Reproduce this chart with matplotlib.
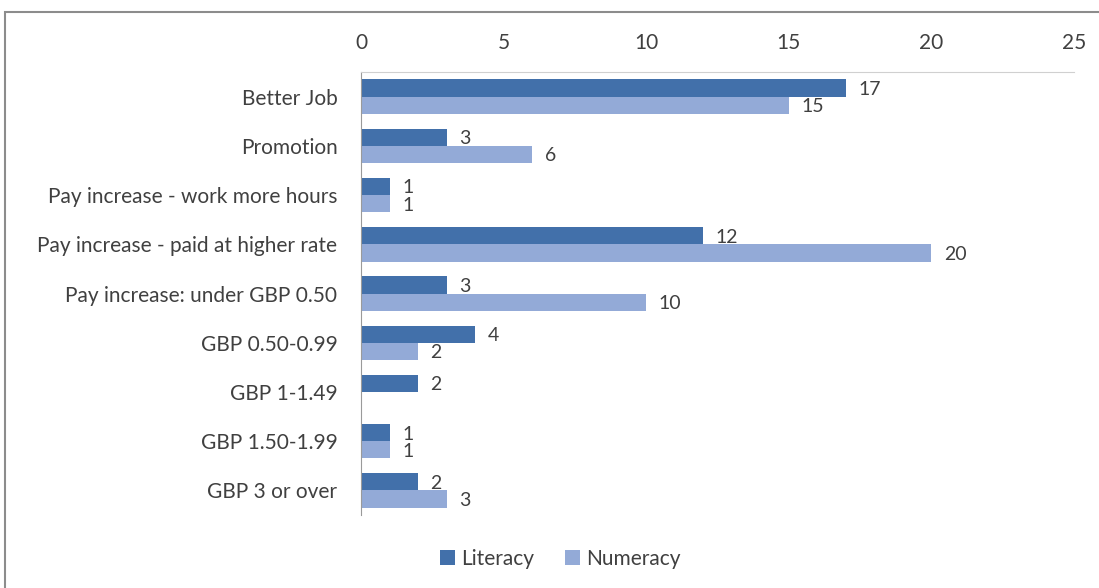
import numpy as np
import matplotlib.pyplot as plt
from matplotlib.patches import Rectangle

categories = ['Better Job', 'Promotion', 'Pay increase - work more hours',
              'Pay increase - paid at higher rate', 'Pay increase: under GBP 0.50',
              'GBP 0.50-0.99', 'GBP 1-1.49', 'GBP 1.50-1.99', 'GBP 3 or over']
literacy = [17, 3, 1, 12, 3, 4, 2, 1, 2]
numeracy = [15, 6, 1, 20, 10, 2, 0, 1, 3]
x_ticks = [0, 5, 10, 15, 20, 25]

lit_color = '#4270AA'
num_color = '#93AAD7'
text_color = '#404040'
fs = 15

plt.rcParams['font.family'] = ['Lato', 'DejaVu Sans']

fig = plt.figure(figsize=(10.99, 5.88), dpi=100)
ax = fig.add_axes([0.3285, 0.124, 0.6485, 0.7536])

# outer frame around the chart
fig.patches.append(Rectangle((5 / 1099, -0.05), 1.0, 1.05 - 12 / 588,
                             transform=fig.transFigure, fill=False,
                             edgecolor='#8C8C8C', linewidth=1.5))

y = np.arange(len(categories))
h = 0.35
ax.barh(y - h / 2, literacy, height=h, color=lit_color, label='Literacy')
ax.barh(y + h / 2, numeracy, height=h, color=num_color, label='Numeracy')

for i in range(len(categories)):
    ax.annotate(str(literacy[i]), (literacy[i], y[i] - h / 2),
                xytext=(9, 0), textcoords='offset points', va='center_baseline',
                fontsize=14, color=text_color)
    if numeracy[i] > 0:
        ax.annotate(str(numeracy[i]), (numeracy[i], y[i] + h / 2),
                    xytext=(9, 0), textcoords='offset points', va='center_baseline',
                    fontsize=14, color=text_color)

ax.set_xlim(0, 25)
ax.set_ylim(len(categories) - 0.5, -0.5)
ax.set_xticks(x_ticks)
ax.xaxis.tick_top()
ax.tick_params(axis='x', length=0, pad=14, labelsize=fs, labelcolor=text_color)
ax.set_yticks(y)
ax.set_yticklabels(categories)
ax.tick_params(axis='y', length=0, pad=17, labelsize=fs, labelcolor=text_color)

for side in ['right', 'bottom']:
    ax.spines[side].set_visible(False)
ax.spines['top'].set_color('#D0D0D0')
ax.spines['left'].set_color('#9A9A9A')
ax.spines['left'].set_bounds(len(categories) - 0.5, -0.5)

fig.legend(loc='center', bbox_to_anchor=(0.51, 0.05), ncol=2, frameon=False,
           fontsize=fs, handlelength=0.7, handleheight=0.7, handletextpad=0.3,
           columnspacing=1.5, labelcolor=text_color)

fig.savefig('out.png', dpi=100)
